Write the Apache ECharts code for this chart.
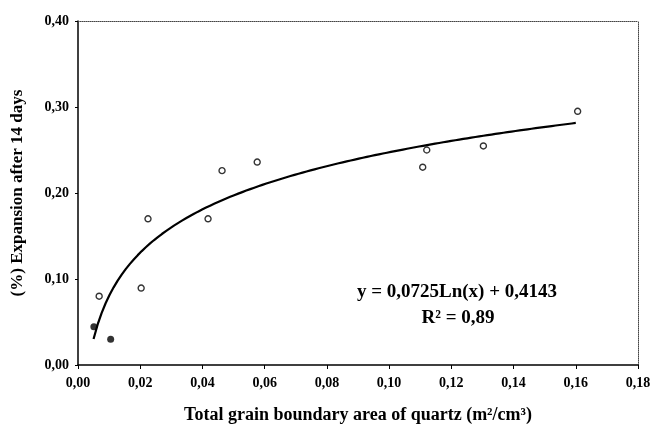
<!DOCTYPE html>
<html>
<head>
<meta charset="utf-8">
<script src="https://cdn.jsdelivr.net/npm/echarts@6/dist/echarts.min.js"></script>
<style>
  html, body { margin: 0; padding: 0; background: #fff; }
  #main { width: 652px; height: 425px; }
</style>
</head>
<body>
<div id="main"></div>
<script>
// open circles
var openX = [0.0068, 0.0203, 0.0225, 0.0418, 0.0463, 0.0576, 0.1108, 0.1121, 0.1303, 0.1606];
var openY = [0.080, 0.0895, 0.170, 0.170, 0.226, 0.236, 0.230, 0.250, 0.2547, 0.295];
// filled circles
var fillX = [0.0051, 0.0105];
var fillY = [0.0445, 0.030];
// trendline y = a*ln(x) + b
var fitA = 0.0725;
var fitB = 0.4143;
var fitRange = [0.005, 0.16];

var myChart = echarts.init(document.getElementById('main'));

var openPts = openX.map(function (x, i) { return [x, openY[i]]; });
var fillPts = fillX.map(function (x, i) { return [x, fillY[i]]; });
var fitPts = [];
for (var k = 0; k <= 120; k++) {
    var x = fitRange[0] + (fitRange[1] - fitRange[0]) * k / 120;
    fitPts.push([x, fitA * Math.log(x) + fitB]);
}

function comma(v) { return v.toFixed(2).replace('.', ','); }

var font = 'Liberation Serif';

option = {
    backgroundColor: '#fff',
    animation: false,
    grid: { left: 78, right: 14, top: 21, bottom: 60, outerBoundsMode: 'none', containLabel: false },
    xAxis: [{
        type: 'value', min: 0, max: 0.18, interval: 0.02,
        name: 'Total grain boundary area of quartz (m²/cm³)',
        nameLocation: 'middle', nameGap: 41,
        nameTextStyle: { fontFamily: font, fontWeight: 'bold', fontSize: 18, color: '#000' },
        axisLine: { lineStyle: { color: '#000', width: 1.5 } },
        axisTick: { length: 4, lineStyle: { color: '#000' } },
        axisLabel: { formatter: comma, fontFamily: font, fontWeight: 'bold', fontSize: 14, color: '#000', margin: 11 },
        splitLine: { show: false }
    }, {
        type: 'value', min: 0, max: 0.18, position: 'top',
        axisLine: { show: true, onZero: false, lineStyle: { color: '#444', type: 'dotted', width: 1 } },
        axisTick: { show: false }, axisLabel: { show: false }, splitLine: { show: false }
    }],
    yAxis: [{
        type: 'value', min: 0, max: 0.4, interval: 0.1,
        name: '(%) Expansion after 14 days',
        nameLocation: 'middle', nameGap: 52,
        nameTextStyle: { fontFamily: font, fontWeight: 'bold', fontSize: 17, color: '#000' },
        axisLine: { show: true, lineStyle: { color: '#000', width: 1.5 } },
        axisTick: { show: true, length: 3, lineStyle: { color: '#000' } },
        axisLabel: { formatter: comma, fontFamily: font, fontWeight: 'bold', fontSize: 14, color: '#000', margin: 9 },
        splitLine: { show: false }
    }, {
        type: 'value', min: 0, max: 0.4, position: 'right',
        axisLine: { show: true, onZero: false, lineStyle: { color: '#444', type: 'dotted', width: 1 } },
        axisTick: { show: false }, axisLabel: { show: false }, splitLine: { show: false }
    }],
    graphic: [{
        type: 'text', x: 457, y: 292,
        style: { text: 'y = 0,0725Ln(x) + 0,4143', font: 'bold 19px "Liberation Serif"', fill: '#000', align: 'center', verticalAlign: 'middle' }
    }, {
        type: 'text', x: 458, y: 318,
        style: { text: 'R² = 0,89', font: 'bold 19px "Liberation Serif"', fill: '#000', align: 'center', verticalAlign: 'middle' }
    }],
    series: [{
        type: 'line', data: fitPts, showSymbol: false, smooth: false,
        lineStyle: { color: '#000', width: 2.2 }, z: 2
    }, {
        type: 'scatter', data: openPts, symbol: 'circle', symbolSize: 6,
        itemStyle: { color: '#fff', borderColor: '#000', borderWidth: 1.4 }, z: 3
    }, {
        type: 'scatter', data: fillPts, symbol: 'circle', symbolSize: 7,
        itemStyle: { color: '#000' }, z: 3
    }]
};

myChart.setOption(option);
</script>
</body>
</html>
